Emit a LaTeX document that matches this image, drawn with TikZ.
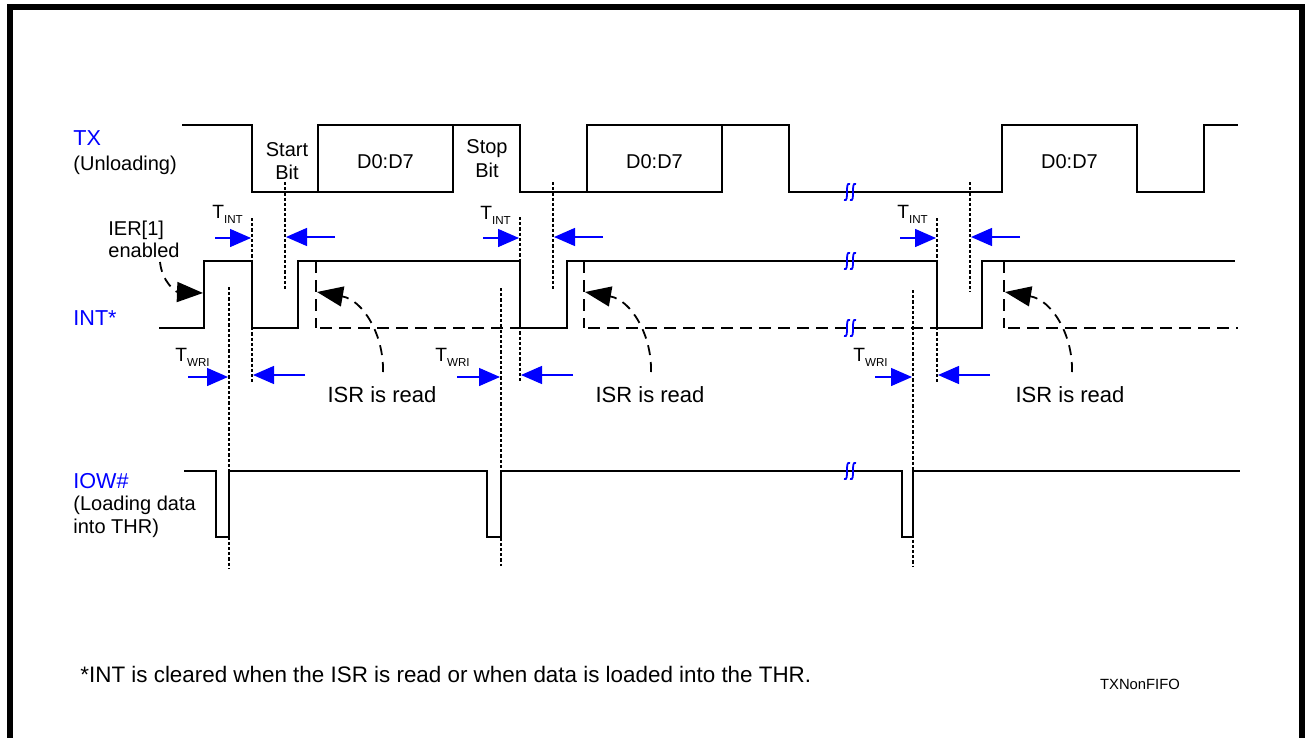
\documentclass[tikz,border=0pt]{standalone}
\usepackage{fontspec}
\setmainfont{Liberation Sans}
\usetikzlibrary{arrows.meta}
\newcommand\tlab[1]{T\raisebox{-2.6pt}{\fontsize{5.8}{6}\selectfont #1}}
\tikzset{
  sig/.style={line width=1pt, black, line join=miter},
  dotv/.style={line width=0.7pt, dash pattern=on 1.6pt off 1pt},
  dashv/.style={line width=0.9pt, dash pattern=on 6pt off 3.5pt},
  tarr/.style={blue, line width=0.7pt, -{Triangle[length=10.5pt,width=9pt]}},
  curv/.style={line width=0.9pt, dash pattern=on 5pt off 3.5pt, -{Triangle[length=13pt,width=10pt]}},
  lbl/.style={inner sep=0pt, font=\fontsize{10}{12}\selectfont},
  signame/.style={inner sep=0pt, font=\fontsize{10.8}{13}\selectfont, text=blue, anchor=base west},
  tl/.style={inner sep=0pt, anchor=base west, font=\fontsize{9.6}{11}\selectfont},
  isr/.style={inner sep=0pt, anchor=base, font=\fontsize{11}{13}\selectfont},
  brkmark/.pic={
    \draw[blue, line width=0.9pt] (-6,8) .. controls (0,11) and (-6,-11) .. (0,-8);
    \draw[blue, line width=0.9pt] (0,8) .. controls (6,11) and (0,-11) .. (6,-8);
  }
}
\begin{document}
\begin{tikzpicture}[x=0.5pt,y=-0.5pt]
\useasboundingbox (0,0) rectangle (1305,738);
% frame
\draw[line width=3pt, line join=miter] (9.5,745) -- (9.5,7) -- (1301.5,7) -- (1301.5,745);

% ---------- TX ----------
\node[signame] (txl) at (73,146) {TX};
\node[lbl, anchor=base west] (txs) at (73,170) {(Unloading)};
\draw[sig] (182,125) -- (252,125) -- (252,192) -- (318,192) -- (318,125) -- (520,125) -- (520,192)
  -- (587,192) -- (587,125) -- (789,125) -- (789,192) -- (1002,192) -- (1002,125) -- (1137,125)
  -- (1137,192) -- (1204,192) -- (1204,125) -- (1238,125);
\draw[sig] (318,192) -- (453,192) -- (453,125);
\draw[sig] (587,192) -- (722,192) -- (722,125);
\node[lbl, anchor=base] (sb1) at (287,156) {Start};
\node[lbl, anchor=base] (sb2) at (287,179) {Bit};
\node[lbl, anchor=base] (pb1) at (487,153) {Stop};
\node[lbl, anchor=base] (pb2) at (487,177) {Bit};
\node[lbl, anchor=base] (d1) at (385.5,168) {D0:D7};
\node[lbl, anchor=base] (d2) at (654.5,168) {D0:D7};
\node[lbl, anchor=base] (d3) at (1069.5,168) {D0:D7};
\pic at (850,192) {brkmark};

% ---------- INT ----------
\node[signame] (intl) at (73,325) {INT*};
\node[lbl, anchor=base west] (ier1) at (108,235) {IER[1]};
\node[lbl, anchor=base west] (ier2) at (108,257) {enabled};
\draw[sig] (159,328) -- (204,328) -- (204,261) -- (252,261) -- (252,328) -- (298,328) -- (298,261)
  -- (520,261) -- (520,328) -- (567,328) -- (567,261) -- (937,261) -- (937,328) -- (982,328)
  -- (982,261) -- (1235,261);
\draw[dashv] (316,261) -- (316,328);
\draw[dashv] (320,328) -- (520,328);
\draw[dashv] (584,261) -- (584,328);
\draw[dashv] (588,328) -- (937,328);
\draw[dashv] (1004,261) -- (1004,328);
\draw[dashv] (1008,328) -- (1238,328);
\pic at (850,261) {brkmark};
\pic at (850,328) {brkmark};

\coordinate (ierS) at (160,262);
\coordinate (ierE) at (203,293);
\draw[curv] (ierS) .. controls (162,282) and (176,292) .. (ierE);

% ISR arrows
\foreach \tx/\hx/\nm in {383/317/a, 651/585/b, 1072/1005/c}{
  \coordinate (isrS\nm) at (\tx,372);
  \coordinate (isrE\nm) at (\hx,292);
  \draw[curv] (isrS\nm) .. controls (\tx+1,335) and (\tx-20,300) .. (isrE\nm);
}
\node[isr] (isr1) at (382,402) {ISR is read};
\node[isr] (isr2) at (650,402) {ISR is read};
\node[isr] (isr3) at (1070,402) {ISR is read};

% ---------- T_INT ----------
\node[tl] (ti1) at (212,218) {\tlab{INT}};
\node[tl] (ti2) at (480,219) {\tlab{INT}};
\node[tl] (ti3) at (897,218) {\tlab{INT}};
\draw[dotv] (252,218) -- (252,383);
\draw[dotv] (285,182) -- (285,289);
\draw[dotv] (520,217) -- (520,383);
\draw[dotv] (553,182) -- (553,290);
\draw[dotv] (937,218) -- (937,383);
\draw[dotv] (970,182) -- (970,292);
\draw[tarr] (215,238) -- (251,238);
\draw[tarr] (335,237) -- (286,237);
\draw[tarr] (483,238) -- (519,238);
\draw[tarr] (603,237) -- (554,237);
\draw[tarr] (900,238) -- (936,238);
\draw[tarr] (1020,237) -- (971,237);

% ---------- T_WRI ----------
\node[tl] (tw1) at (175,361) {\tlab{WRI}};
\node[tl] (tw2) at (435,361) {\tlab{WRI}};
\node[tl] (tw3) at (853,361) {\tlab{WRI}};
\draw[dotv] (229,287) -- (229,568);
\draw[dotv] (501,288) -- (501,566);
\draw[dotv] (913,290) -- (913,566);
\draw[tarr] (188,377) -- (228,377);
\draw[tarr] (305,375) -- (253,375);
\draw[tarr] (457,377) -- (500,377);
\draw[tarr] (573,375) -- (521,375);
\draw[tarr] (875,377) -- (912,377);
\draw[tarr] (990,375) -- (938,375);

% ---------- IOW ----------
\node[signame] (iowl) at (73,488) {IOW\#};
\node[lbl, anchor=base west] (iow2) at (73,510) {(Loading data};
\node[lbl, anchor=base west] (iow3) at (73,533) {into THR)};
\draw[sig] (184,471) -- (216,471) -- (216,537) -- (229,537) -- (229,471) -- (487,471) -- (487,537)
  -- (501,537) -- (501,471) -- (902,471) -- (902,537) -- (913,537) -- (913,471) -- (1240,471);
\pic at (850,471) {brkmark};

% ---------- notes ----------
\node[inner sep=0pt, anchor=base west, font=\fontsize{11.2}{13}\selectfont] (note) at (80,682)
  {*INT is cleared when the ISR is read or when data is loaded into the THR.};
\node[inner sep=0pt, anchor=base, font=\fontsize{7.4}{9}\selectfont] (fig) at (1140,689) {TXNonFIFO};
\end{tikzpicture}
\end{document}
